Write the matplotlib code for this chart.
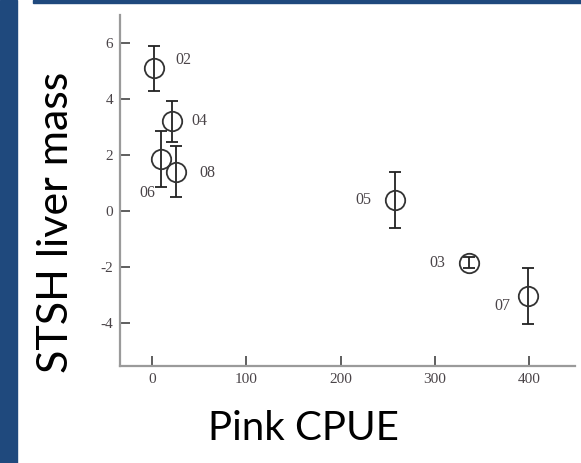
import matplotlib
matplotlib.use("Agg")
import matplotlib.pyplot as plt
from matplotlib.patches import Rectangle

plt.rcParams["axes.unicode_minus"] = False

# year labels, pink salmon CPUE, STSH liver mass index and error
years = ["02", "04", "06", "08", "05", "03", "07"]
pink_cpue = [2, 21, 9.5, 25, 258, 336, 399]
liver_mass = [5.1, 3.2, 1.85, 1.4, 0.4, -1.85, -3.05]
liver_err = [0.8, 0.72, 1.0, 0.92, 1.0, 0.2, 1.0]

# label offsets in pixels (dx, dy) and alignment
label_offsets = {
    "02": (21, 8, "left"),
    "04": (20, 0, "left"),
    "06": (-6, -34, "right"),
    "08": (24, -1, "left"),
    "05": (-24, 0, "right"),
    "03": (-23, 0, "right"),
    "07": (-18, -10, "right"),
}

NAVY = "#1f497d"
TICK_COL = "#4a4448"

fig = plt.figure(figsize=(5.81, 4.63), dpi=100)
fig.patches.append(Rectangle((0, 0), 17 / 581, 1, transform=fig.transFigure,
                             color=NAVY, zorder=0))
fig.patches.append(Rectangle((33 / 581, 1 - 3 / 463), 1, 3 / 463,
                             transform=fig.transFigure, color=NAVY, zorder=0))

ax = fig.add_axes([120 / 581, 97 / 463, 455 / 581, 351 / 463])
ax.errorbar(pink_cpue, liver_mass, yerr=liver_err, fmt="o", ms=14,
            mfc="none", mec="#333333", mew=1.3, ecolor="#222222",
            elinewidth=1.3, capsize=4.3, capthick=1.3)

for name, xv, yv in zip(years, pink_cpue, liver_mass):
    dx, dy, ha = label_offsets[name]
    ax.annotate(name, (xv, yv), xytext=(dx, dy), textcoords="offset pixels",
                ha=ha, va="center", fontsize=11.5, color=TICK_COL,
                family="Liberation Serif")

ax.set_xlim(-34, 448.8)
ax.set_ylim(-5.54, 7.0)
ax.set_xticks([0, 100, 200, 300, 400])
ax.set_yticks([-4, -2, 0, 2, 4, 6])
for s in ("top", "right"):
    ax.spines[s].set_visible(False)
for s in ("left", "bottom"):
    ax.spines[s].set_color("#9a9a9a")
    ax.spines[s].set_linewidth(1.6)
ax.tick_params(direction="in", length=7, width=1.1, color="#333333",
               labelcolor=TICK_COL, labelsize=11, pad=5)
for lab in ax.get_xticklabels() + ax.get_yticklabels():
    lab.set_family("Liberation Serif")

fig.text(56 / 581, 1 - 222 / 463, "STSH liver mass", rotation=90,
         ha="center", va="center", fontsize=31, family="Lato")
fig.text(303 / 581, 1 - 428 / 463, "Pink CPUE", ha="center", va="center",
         fontsize=29, family="Lato")

fig.savefig("out.png", dpi=100)
